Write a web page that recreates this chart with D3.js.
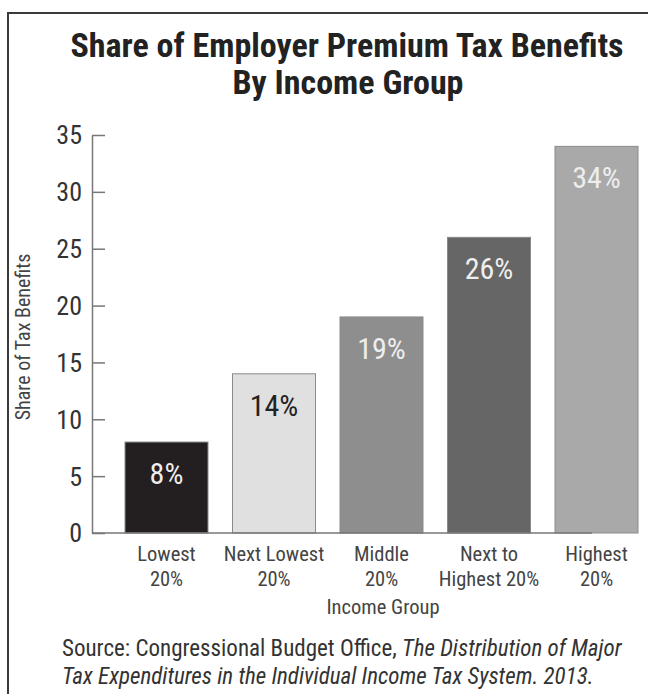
<!DOCTYPE html>
<html lang="en">
<head>
<meta charset="UTF-8">
<title>Share of Employer Premium Tax Benefits</title>
<script src="https://cdn.jsdelivr.net/npm/d3@7"></script>
<style>
    html, body { margin: 0; padding: 0; background: #fff; }
    svg { display: block; }
    text { font-family: Roboto, "Open Sans", sans-serif; font-stretch: condensed; }
</style>
</head>
<body>
<script>
// data
const groups = ["Lowest 20%", "Next Lowest 20%", "Middle 20%", "Next to Highest 20%", "Highest 20%"]
const groupLines = [["Lowest", "20%"], ["Next Lowest", "20%"], ["Middle", "20%"], ["Next to", "Highest 20%"], ["Highest", "20%"]]
const shares = [8, 14, 19, 26, 34]
const barColors = ["#231f20", "#e0e0e0", "#8e8e8e", "#666666", "#a9a9a9"]
const labelColors = ["#eee", "#222", "#eee", "#eee", "#eee"]
const yTicks = [0, 5, 10, 15, 20, 25, 30, 35]

const W = 648, H = 694
const svg = d3.select("body").append("svg")
    .attr("width", W)
    .attr("height", H)

// frame round the figure
svg.append("rect")
    .attr("x", 8).attr("y", 13)
    .attr("width", 720).attr("height", 720)
    .attr("fill", "none")
    .attr("stroke", "#3a3a3a")
    .attr("stroke-width", 2)

// title
const title = svg.append("text")
    .attr("text-anchor", "middle")
    .attr("font-weight", "bold")
    .attr("font-size", 34)
    .attr("fill", "#222")
title.append("tspan").attr("x", 347).attr("y", 57).text("Share of Employer Premium Tax Benefits")
title.append("tspan").attr("x", 348).attr("y", 94).text("By Income Group")

// scales
const axisX = 92
const y = d3.scaleLinear().domain([0, 35]).range([533, 135])
const x = d3.scaleBand()
    .domain(groups)
    .range([axisX, 671])
    .paddingInner(0.228)
    .paddingOuter(0.307)

// bars
svg.append("g").selectAll("rect")
    .data(shares)
    .join("rect")
    .attr("x", (d, i) => x(groups[i]))
    .attr("y", d => y(d))
    .attr("width", x.bandwidth())
    .attr("height", d => y(0) - y(d))
    .attr("fill", (d, i) => barColors[i])
    .attr("stroke", "#8a8a8a")
    .attr("stroke-width", 1)

// values inside the bars
svg.append("g").selectAll("text")
    .data(shares)
    .join("text")
    .attr("x", (d, i) => x(groups[i]) + x.bandwidth() / 2)
    .attr("y", d => y(d) + 42)
    .attr("text-anchor", "middle")
    .attr("font-size", 30)
    .attr("fill", (d, i) => labelColors[i])
    .text(d => d + "%")

// y axis: ticks point inward
const yAxis = svg.append("g")
    .attr("transform", `translate(${axisX},0)`)
    .call(d3.axisRight(y).tickValues(yTicks).tickSize(13).tickSizeOuter(0).tickFormat(""))
yAxis.select(".domain").attr("stroke", "#777").attr("stroke-width", 1.5)
yAxis.selectAll(".tick line").attr("stroke", "#777").attr("stroke-width", 1.5)

svg.append("g").selectAll("text")
    .data(yTicks)
    .join("text")
    .attr("x", 82)
    .attr("y", d => y(d))
    .attr("dy", "0.36em")
    .attr("text-anchor", "end")
    .attr("font-size", 26)
    .attr("fill", "#333")
    .text(d => d)

// baseline
svg.append("line")
    .attr("x1", axisX).attr("x2", 592)
    .attr("y1", y(0)).attr("y2", y(0))
    .attr("stroke", "#777")
    .attr("stroke-width", 1.5)

// y title
svg.append("text")
    .attr("transform", `translate(30,337) rotate(-90)`)
    .attr("text-anchor", "middle")
    .attr("font-size", 20)
    .attr("fill", "#444")
    .text("Share of Tax Benefits")

// category labels
const cat = svg.append("g").selectAll("text")
    .data(groupLines)
    .join("text")
    .attr("text-anchor", "middle")
    .attr("font-size", 20.5)
    .attr("fill", "#444")
cat.selectAll("tspan")
    .data((d, i) => d.map(s => ({ s, i })))
    .join("tspan")
    .attr("x", d => x(groups[d.i]) + x.bandwidth() / 2)
    .attr("y", (d, j) => 561 + j * 25)
    .text(d => d.s)

svg.append("text")
    .attr("x", 383).attr("y", 614)
    .attr("text-anchor", "middle")
    .attr("font-size", 20.5)
    .attr("fill", "#444")
    .text("Income Group")

// source note
const src = svg.append("text")
    .attr("font-size", 23)
    .attr("fill", "#333")
const l1 = src.append("tspan").attr("x", 62).attr("y", 656)
l1.append("tspan").text("Source: Congressional Budget Office, ")
l1.append("tspan").attr("font-style", "italic").text("The Distribution of Major")
src.append("tspan").attr("x", 62).attr("y", 684)
    .attr("font-style", "italic")
    .text("Tax Expenditures in the Individual Income Tax System. 2013.")
</script>
</body>
</html>
